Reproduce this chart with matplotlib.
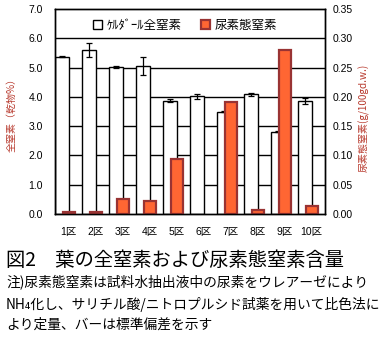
import matplotlib
matplotlib.use("Agg")
import matplotlib.pyplot as plt
from matplotlib.patches import Patch
import numpy as np

plt.rcParams['font.family'] = ['Liberation Sans', 'Noto Sans CJK JP', 'DejaVu Sans']

categories = ['1区', '2区', '3区', '4区', '5区', '6区', '7区', '8区', '9区', '10区']
total_n = [5.37, 5.60, 5.01, 5.06, 3.87, 4.02, 3.49, 4.09, 2.81, 3.86]
total_n_err = [0.02, 0.24, 0.03, 0.31, 0.05, 0.08, 0.02, 0.05, 0.02, 0.10]
urea_n = [0.004, 0.004, 0.025, 0.023, 0.094, 0.0, 0.192, 0.0075, 0.280, 0.0142]
left_ticks = [0.0, 1.0, 2.0, 3.0, 4.0, 5.0, 6.0, 7.0]
right_ticks = [0.00, 0.05, 0.10, 0.15, 0.20, 0.25, 0.30, 0.35]

W, H = 386, 353
fig = plt.figure(figsize=(W / 100, H / 100), dpi=100)
ax_l, ax_r, ax_t, ax_b = 55, 325, 9, 214
ax = fig.add_axes([ax_l / W, 1 - ax_b / H, (ax_r - ax_l) / W, (ax_b - ax_t) / H])
ax2 = ax.twinx()

x = np.arange(len(categories))
gw = 27.0
w_white = 14 / gw
off_white = -0.5 + 7 / gw
w_red = 12 / gw
off_red = -0.5 + 14 / gw

for v in left_ticks[1:-1]:
    ax.axhline(v, color='black', lw=1.0, zorder=1)

ax.bar(x + off_white, total_n, width=w_white, color='white', edgecolor='black',
       linewidth=1.0, zorder=2)
ax.errorbar(x + off_white, total_n, yerr=total_n_err, fmt='none', ecolor='black',
            elinewidth=0.9, capsize=2.2, capthick=0.9, zorder=3)

xr = [xi for xi, v in zip(x, urea_n) if v > 0]
vr = [v for v in urea_n if v > 0]
ax2.bar(np.array(xr) + off_red, vr, width=w_red, color='#FF6633', edgecolor='#993333',
        linewidth=1.6, zorder=2)

ax.set_xlim(-0.5, len(categories) - 0.5)
ax.set_ylim(0, 7)
ax2.set_ylim(0, 0.35)
ax.set_yticks(left_ticks)
ax.set_yticklabels([f'{v:.1f}' for v in left_ticks])
ax2.set_yticks(right_ticks)
ax2.set_yticklabels([f'{v:.2f}' for v in right_ticks])
ax.set_xticks(x)
ax.set_xticklabels(categories)

ax.tick_params(axis='y', length=0, pad=8.5, labelsize=7.5)
ax2.tick_params(axis='y', length=0, pad=5.5, labelsize=7.5)
ax.tick_params(axis='x', length=0, pad=9, labelsize=7.5)
for a in (ax, ax2):
    for s in a.spines.values():
        s.set_color('black')
        s.set_linewidth(1.0)

lab_col = '#B83A2E'
fig.text(12 / W, 1 - 112 / H, '全窒素（乾物%）', rotation=90, ha='center', va='center',
         fontsize=7.2, color=lab_col, family=['Noto Sans CJK JP', 'DejaVu Sans'])
fig.text(364 / W, 1 - 118 / H, '尿素態窒素(g/100gd.w.)', rotation=90, ha='center', va='center',
         fontsize=7.2, color=lab_col, family=['Noto Sans CJK JP', 'DejaVu Sans'])

handles = [Patch(facecolor='white', edgecolor='black', linewidth=1.0),
           Patch(facecolor='#FF6633', edgecolor='#993333', linewidth=1.6)]
leg = fig.legend(handles, ['ｹﾙﾀﾞｰﾙ全窒素', '尿素態窒素'], ncol=2, frameon=False,
                 loc='center left', bbox_to_anchor=(93 / W, 1 - 25.5 / H),
                 borderpad=0, borderaxespad=0, handlelength=0.75, handleheight=0.75,
                 handletextpad=0.35, columnspacing=1.5,
                 prop={'family': ['Noto Sans CJK JP', 'DejaVu Sans'], 'size': 9})

cap_font = ['Noto Sans CJK JP', 'DejaVu Sans']
fig.text(6 / W, 1 - 260 / H, '図2　葉の全窒素および尿素態窒素含量', ha='left', va='center',
         fontsize=13.9, family=cap_font)
notes = ['注)尿素態窒素は試料水抽出液中の尿素をウレアーゼにより',
         'NH₄化し、サリチル酸/ニトロプルシド試薬を用いて比色法に',
         'より定量、バーは標準偏差を示す']
for i, line in enumerate(notes):
    fig.text(6 / W, 1 - (283 + 21 * i) / H, line, ha='left', va='center',
             fontsize=9.9, family=cap_font)

fig.savefig('out.png', dpi=100)
